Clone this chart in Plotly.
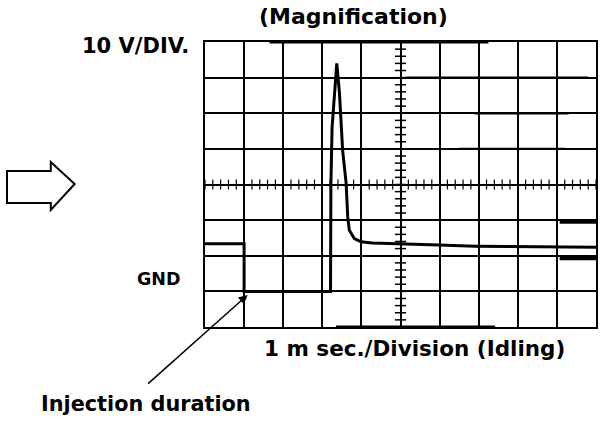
import plotly.graph_objects as go

# Waveform (x in ms = divisions, y in divisions of 10 V)
time_ms = [0.0, 1.0, 1.0, 3.21, 3.22, 3.25, 3.37, 3.44, 3.52, 3.61, 3.65, 3.69,
           3.82, 3.99, 4.28, 4.71, 5.98, 6.91, 10.0]
volts_div = [2.34, 2.34, 1.0, 1.0, 4.0, 5.6, 7.4, 6.55, 4.96, 4.03, 3.09, 2.72,
             2.48, 2.39, 2.36, 2.34, 2.30, 2.27, 2.24]

# Scan artifacts: thick segments on the graticule
seg_x = [[1.65, 7.25], [3.35, 7.42], [9.07, 10.0], [9.07, 10.0], [5.13, 9.8], [6.9, 9.3], [6.5, 9.2]]
seg_y = [[8.0, 8.0], [0.0, 0.0], [2.95, 2.95], [1.92, 1.92], [7.0, 7.0], [6.0, 6.0], [5.0, 5.0]]
seg_w = [3, 3, 3.5, 3.5, 2.5, 2.3, 2.3]

x_ticks = [i * 0.2 for i in range(51)]
y_ticks = [i * 0.2 for i in range(41)]

W, H = 608, 424
L, R, T, B = 205, 10, 42, 97
pw, ph = W - L - R, H - T - B


def px(xp):
    return (xp - L) / pw


def py(yp):
    return (H - B - yp) / ph


fig = go.Figure()

for sx, sy, w in zip(seg_x, seg_y, seg_w):
    fig.add_trace(go.Scatter(x=sx, y=sy, mode="lines", line=dict(color="black", width=w),
                             hoverinfo="skip", showlegend=False, cliponaxis=False))

fig.add_trace(go.Scatter(x=x_ticks, y=[4] * len(x_ticks), mode="markers",
                         marker=dict(symbol="line-ns", size=7, line=dict(color="black", width=1.2)),
                         hoverinfo="skip", showlegend=False))
fig.add_trace(go.Scatter(x=[5] * len(y_ticks), y=y_ticks, mode="markers",
                         marker=dict(symbol="line-ew", size=8, line=dict(color="black", width=1.5)),
                         hoverinfo="skip", showlegend=False))

fig.add_trace(go.Scatter(x=time_ms, y=volts_div, mode="lines",
                         line=dict(color="black", width=3), showlegend=False, cliponaxis=False))

# Block arrow on the left
pts = [(6, 171), (50, 171), (50, 162), (74, 184), (50, 210), (50, 203), (6, 203)]
path = "M " + " L ".join(f"{px(a):.4f},{py(b):.4f}" for a, b in pts) + " Z"
fig.add_shape(type="path", path=path, xref="paper", yref="paper",
              line=dict(color="black", width=2), fillcolor="white")

FAM = "DejaVu Sans, Verdana, sans-serif"


def label(text, xp, yp, size):
    fig.add_annotation(text=text, x=px(xp), y=py(yp), xref="paper", yref="paper",
                       xanchor="center", yanchor="middle", showarrow=False,
                       font=dict(family=FAM, size=size, color="black", weight="bold"))


label("(Magnification)", 354, 17, 22)
label("10 V/DIV.", 135, 46, 21)
label("GND", 159, 279, 17.5)
label("1 m sec./Division (Idling)", 416, 348, 21.5)
label("Injection duration", 146, 404, 20.8)

fig.add_annotation(text="", x=1.09, y=0.9, xref="x", yref="y", ax=-101, ay=90,
                   showarrow=True, arrowhead=2, arrowsize=1.2, arrowwidth=1.5, arrowcolor="black")

fig.update_layout(
    width=W, height=H, margin=dict(l=L, r=R, t=T, b=B),
    paper_bgcolor="white", plot_bgcolor="white",
    xaxis=dict(range=[0, 10], dtick=1, showgrid=True, gridcolor="black", gridwidth=1.5,
               showticklabels=False, ticks="", zeroline=False, showline=True, linecolor="black",
               linewidth=2, mirror=True, fixedrange=True),
    yaxis=dict(range=[0, 8], dtick=1, showgrid=True, gridcolor="black", gridwidth=2,
               showticklabels=False, ticks="", zeroline=False, showline=True, linecolor="black",
               linewidth=2, mirror=True, fixedrange=True),
)

fig.write_html("out.html", post_script="document.body.style.margin='0';",
               config={"displayModeBar": False})
